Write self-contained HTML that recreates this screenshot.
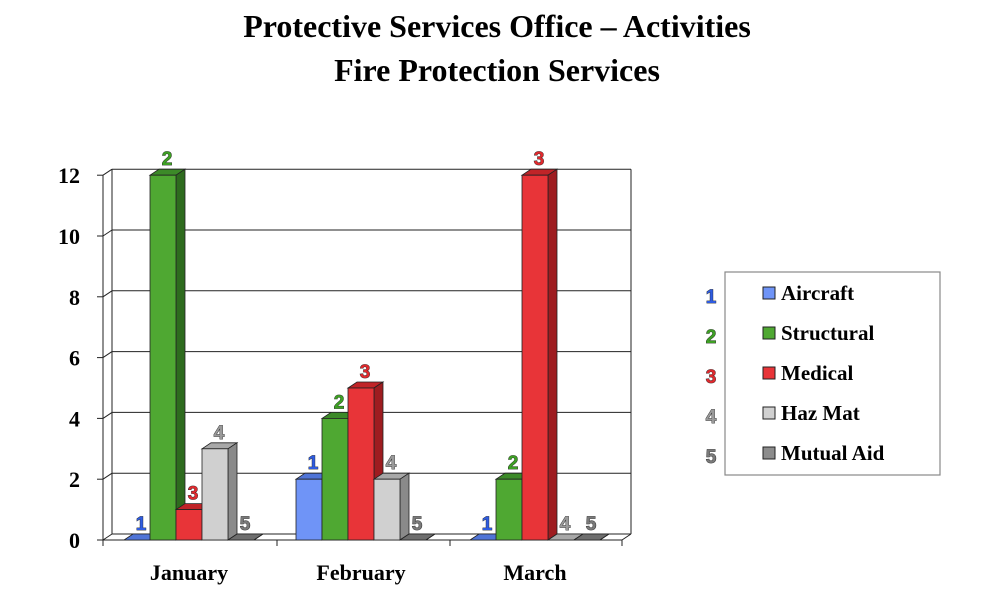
<!DOCTYPE html>
<html><head><meta charset="utf-8"><style>
body{margin:0;background:#fff;width:985px;height:611px;overflow:hidden}
svg{display:block;font-family:"Liberation Serif",serif}
.num{font-family:"Liberation Sans",sans-serif;font-weight:bold;font-size:19px;stroke:#222;stroke-width:0.8px;paint-order:stroke}
</style></head><body>
<svg id="c" width="985" height="611">
<text x="497" y="37" text-anchor="middle" font-size="32" font-weight="bold">Protective Services Office – Activities</text>
<text x="497" y="81" text-anchor="middle" font-size="32" font-weight="bold">Fire Protection Services</text>
<rect x="725" y="272" width="215" height="203" fill="#fff" stroke="#888" stroke-width="1.2"/>
</svg>
<script>
const categories=["January","February","March"];
const seriesNames=["Aircraft","Structural","Medical","Haz Mat","Mutual Aid"];
const aircraft=[0,2,0];
const structural=[12,4,2];
const medical=[1,5,12];
const hazMat=[3,2,0];
const mutualAid=[0,0,0];
const yTicks=[0,2,4,6,8,10,12];
const series=[aircraft,structural,medical,hazMat,mutualAid];
const fills=["#6f94f7","#4fa832","#e83438","#d0d0d0","#8c8c8c"];
const sides=["#3a5cc0","#2e6b1e","#9e1c20","#8a8a8a","#5a5a5a"];
const tops=["#4f74d7","#3c8a28","#c02428","#a8a8a8","#6e6e6e"];
const numCol=["#2f5ce0","#3ea024","#e02a2e","#9a9a9a","#7a7a7a"];
const svg=document.getElementById('c');
const NS="http://www.w3.org/2000/svg";
function mk(t,a,parent){const e=document.createElementNS(NS,t);for(const k in a)e.setAttribute(k,a[k]);(parent||svg).appendChild(e);return e;}
const x0=103,x1=622,yBase=540,unit=30.4,dx=9,dy=-6;
function y(v){return yBase-v*unit;}
const groupStart=[124,296,470],barW=26;
function bx(ci,si){return groupStart[ci]+si*barW;}
// back wall gridlines
for(const t of yTicks){
  const g=mk('line',{x1:x0+dx,y1:y(t)+dy,x2:x1+dx,y2:y(t)+dy,stroke:'#222','stroke-width':1});
  
  
  mk('line',{x1:x0,y1:y(t),x2:x0+dx,y2:y(t)+dy,stroke:'#222','stroke-width':1});
  mk('line',{x1:x0-6,y1:y(t),x2:x0,y2:y(t),stroke:'#222','stroke-width':1});
  const l=mk('text',{x:80,y:y(t)+8,'text-anchor':'end','font-size':22,'font-weight':'bold'});
  l.textContent=t;
  
  
}
mk('line',{x1:x0+dx,y1:y(12)+dy,x2:x0+dx,y2:yBase+dy,stroke:'#222'});
mk('line',{x1:x1+dx,y1:y(12)+dy,x2:x1+dx,y2:yBase+dy,stroke:'#222'});
mk('line',{x1:x0,y1:y(12),x2:x0,y2:yBase+6,stroke:'#222'});
mk('line',{x1:x0,y1:yBase,x2:x1,y2:yBase,stroke:'#222'});
mk('line',{x1:x1,y1:yBase,x2:x1+dx,y2:yBase+dy,stroke:'#222'});
[103,277,450,622].forEach(xx=>mk('line',{x1:xx,y1:yBase,x2:xx,y2:yBase+6,stroke:'#222'}));
categories.forEach((c,ci)=>{
  const t=mk('text',{x:groupStart[ci]+65,y:580,'text-anchor':'middle','font-size':22,'font-weight':'bold'});
  t.textContent=c;
  
  
  series.forEach((s,si)=>{
    const v=s[ci],x=bx(ci,si),yt=y(v);
    const g=mk('g',{});
    
    
    mk('polygon',{points:`${x},${yt} ${x+dx},${yt+dy} ${x+barW+dx},${yt+dy} ${x+barW},${yt}`,fill:tops[si],stroke:'#222','stroke-width':0.8},g);
    mk('polygon',{points:`${x+barW},${yt} ${x+barW+dx},${yt+dy} ${x+barW+dx},${yBase+dy} ${x+barW},${yBase}`,fill:sides[si],stroke:'#222','stroke-width':0.8},g);
    if(v>0)mk('rect',{x:x,y:yt,width:barW,height:yBase-yt,fill:fills[si],stroke:'#222','stroke-width':0.8},g);
    const n=mk('text',{x:x+barW/2+4,y:yt-10,'text-anchor':'middle',fill:numCol[si],class:'num'});
    n.textContent=si+1;
    
    
  });
});
seriesNames.forEach((nm,i)=>{
  const yy=293+i*40;
  const n=mk('text',{x:711,y:yy+10,'text-anchor':'middle',fill:numCol[i],class:'num'});
  n.textContent=i+1;
  
  
  const r=mk('rect',{x:763,y:yy-6,width:12,height:12,fill:fills[i],stroke:'#222','stroke-width':1});
  
  
  const t=mk('text',{x:781,y:yy+7,'font-size':21,'font-weight':'bold'});
  t.textContent=nm;
  
  
});
</script>
</body></html>
